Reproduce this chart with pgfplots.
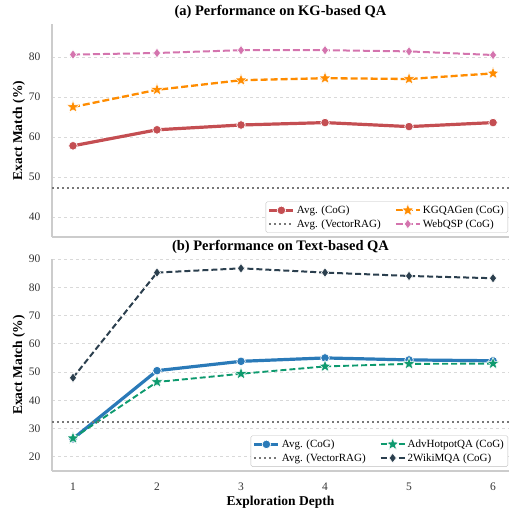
\documentclass[border=0pt]{standalone}
\usepackage{pgfplots}
\pgfplotsset{compat=1.18}
\usepackage{fontspec}
\setmainfont{Liberation Serif}
\definecolor{cred}{HTML}{C44E52}
\definecolor{corange}{HTML}{FF8C00}
\definecolor{cpink}{HTML}{D474AE}
\definecolor{cblue}{HTML}{2A7AB8}
\definecolor{cgreen}{HTML}{0E9A6E}
\definecolor{cnavy}{HTML}{2B3F4E}
\definecolor{cgrayline}{HTML}{777777}
\pgfdeclareplotmark{fstar}{%
  \pgfpathmoveto{\pgfpointpolar{90}{\pgfplotmarksize}}%
  \pgfpathlineto{\pgfpointpolar{126}{0.42\pgfplotmarksize}}%
  \pgfpathlineto{\pgfpointpolar{162}{\pgfplotmarksize}}%
  \pgfpathlineto{\pgfpointpolar{198}{0.42\pgfplotmarksize}}%
  \pgfpathlineto{\pgfpointpolar{234}{\pgfplotmarksize}}%
  \pgfpathlineto{\pgfpointpolar{270}{0.42\pgfplotmarksize}}%
  \pgfpathlineto{\pgfpointpolar{306}{\pgfplotmarksize}}%
  \pgfpathlineto{\pgfpointpolar{342}{0.42\pgfplotmarksize}}%
  \pgfpathlineto{\pgfpointpolar{18}{\pgfplotmarksize}}%
  \pgfpathlineto{\pgfpointpolar{54}{0.42\pgfplotmarksize}}%
  \pgfpathclose\pgfusepathqfillstroke}
\pgfplotsset{
  myaxis/.style={
    scale only axis, width=457pt,
    xmin=0.75, xmax=6.19,
    axis x line*=bottom, axis y line*=left,
    axis line style={draw=black!20, line width=1.1pt},
    major tick length=0pt,
    xtick={1,2,3,4,5,6},
    ymajorgrids, grid style={dashed, draw=black!15, line width=0.8pt},
    tick label style={font=\fontsize{11.5}{13}\selectfont, text=black!80},
    yticklabel style={xshift=-8pt},
    /pgf/number format/assume math mode=true,
    title style={font=\bfseries\fontsize{14.5}{16}\selectfont, yshift=-4pt},
    ylabel={Exact Match (\%)},
    ylabel style={font=\bfseries\fontsize{13.5}{15}\selectfont, yshift=-3pt},
    legend columns=2,
    legend cell align=left,
    legend style={font=\fontsize{11}{13}\selectfont, draw=black!25, rounded corners=1.5pt,
      fill=white, at={(0.998,0.02)}, anchor=south east, row sep=0.5pt, inner sep=2pt,
      /tikz/every even column/.append style={column sep=12pt}},
    legend image code/.code={%
      \draw[mark repeat=2,mark phase=2,#1] plot coordinates {(0cm,0cm) (0.42cm,0cm) (0.84cm,0cm)};},
    every axis plot/.append style={line join=round},
  }
}
\begin{document}
\begin{tikzpicture}[x=1pt,y=1pt]
\useasboundingbox (0,0) rectangle (509,508);
\begin{axis}[myaxis, at={(52pt,271pt)}, anchor=south west, height=213pt,
  ymin=35, ymax=88.25, ytick={40,50,60,70,80}, xticklabels={},
  title={(a) Performance on KG-based QA}]
\addplot[cred, line width=3.2pt, mark=*, mark size=4.3pt, mark options={solid, fill=cred, draw=white, line width=0.7pt}]
 coordinates {(1,57.8) (2,61.8) (3,63.0) (4,63.6) (5,62.6) (6,63.6)};
\addlegendentry{Avg. (CoG)}
\addplot[corange, line width=2.3pt, dash pattern=on 7pt off 3pt, mark=fstar, mark size=6.5pt, mark options={solid, fill=corange, draw=white, line width=0.5pt}]
 coordinates {(1,67.5) (2,71.8) (3,74.2) (4,74.7) (5,74.5) (6,75.9)};
\addlegendentry{KGQAGen (CoG)}
\addplot[cgrayline, line width=2pt, dash pattern=on 2pt off 3pt]
 coordinates {(0.75,47.2) (6.19,47.2)};
\addlegendentry{Avg. (VectorRAG)}
\addplot[cpink, line width=2pt, dash pattern=on 7pt off 3pt, mark=diamond*, mark size=4.8pt, mark options={solid, fill=cpink, draw=white, line width=0.6pt}]
 coordinates {(1,80.6) (2,81.0) (3,81.7) (4,81.7) (5,81.4) (6,80.5)};
\addlegendentry{WebQSP (CoG)}
\end{axis}
\begin{axis}[myaxis, at={(52pt,37pt)}, anchor=south west, height=212pt,
  ymin=15, ymax=90, ytick={20,30,40,50,60,70,80,90},
  xticklabel style={yshift=-8pt},
  xlabel={Exploration Depth},
  xlabel style={font=\bfseries\fontsize{13.5}{15}\selectfont, yshift=1pt},
  title={(b) Performance on Text-based QA}]
\addplot[cblue, line width=3.2pt, mark=*, mark size=4.3pt, mark options={solid, fill=cblue, draw=white, line width=0.7pt}]
 coordinates {(1,26.4) (2,50.5) (3,53.8) (4,55.0) (5,54.3) (6,54.0)};
\addlegendentry{Avg. (CoG)}
\addplot[cgreen, line width=1.9pt, dash pattern=on 6pt off 3pt, mark=fstar, mark size=6.5pt, mark options={solid, fill=cgreen, draw=white, line width=0.5pt}]
 coordinates {(1,26.6) (2,46.5) (3,49.4) (4,52.0) (5,52.9) (6,53.0)};
\addlegendentry{AdvHotpotQA (CoG)}
\addplot[cgrayline, line width=2pt, dash pattern=on 2pt off 3pt]
 coordinates {(0.75,32.3) (6.19,32.3)};
\addlegendentry{Avg. (VectorRAG)}
\addplot[cnavy, line width=2pt, dash pattern=on 6pt off 3pt, mark=diamond*, mark size=4.8pt, mark options={solid, fill=cnavy, draw=white, line width=0.6pt}]
 coordinates {(1,48.0) (2,85.2) (3,86.7) (4,85.2) (5,84.0) (6,83.2)};
\addlegendentry{2WikiMQA (CoG)}
\end{axis}
\end{tikzpicture}
\end{document}
